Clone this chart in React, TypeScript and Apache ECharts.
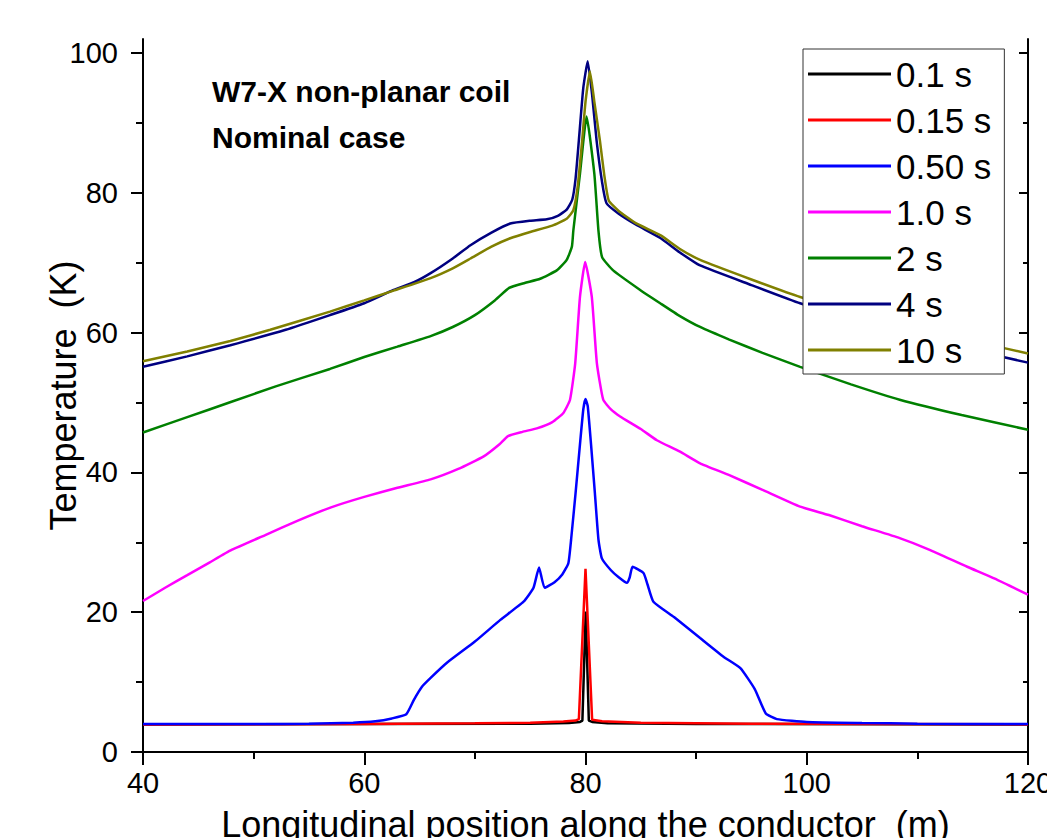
import React, { useEffect, useRef } from "react";
import * as echarts from "echarts";

const FONT = "'Liberation Sans', Arial, Helvetica, sans-serif";

const seriesNames = ["0.1 s", "0.15 s", "0.50 s", "1.0 s", "2 s", "4 s", "10 s"];
const seriesColors = ["#000000", "#ff0000", "#0000ff", "#ff00ff", "#008000", "#000080", "#808000"];
const seriesSmooth = [false, false, 0.15, 0.15, 0.15, 0.15, 0.15];

const xTickValues = [40, 60, 80, 100, 120];
const yMajorTicks = [0, 20, 40, 60, 80, 100];
const yMinorTicks = [10, 30, 50, 70, 90];

// [position (m), temperature (K)]
const t01 = [
  [40, 3.95], [60, 4.0], [75, 4.05], [78.5, 4.15], [79.5, 4.3], [79.72, 4.5], [80.02, 20.1],
  [80.3, 4.5], [80.6, 4.3], [82, 4.1], [90, 4.0], [120, 3.95],
];
const t015 = [
  [40, 3.95], [60, 4.0], [70, 4.1], [75, 4.2], [78, 4.35], [79.1, 4.5], [79.4, 4.7], [80.0, 26.2],
  [80.6, 4.6], [81.5, 4.4], [85, 4.2], [95, 4.05], [120, 3.95],
];
const t050 = [
  [40, 4.0], [50, 4.0], [55, 4.05], [59, 4.2], [61, 4.4], [62.5, 4.8], [63.8, 5.4], [64.5, 7.5],
  [65.2, 9.3], [66, 10.6], [67.5, 12.8], [70, 15.8], [72.3, 18.9], [74.4, 21.5], [75.3, 23.5],
  [75.8, 26.4], [76.3, 23.5], [77.2, 24.3], [77.9, 25.4], [78.45, 27.0], [78.7, 30.4], [79.1, 37],
  [79.5, 44], [79.8, 49], [80.0, 50.5], [80.2, 49.5], [80.5, 44], [80.85, 37], [81.17, 30.4],
  [81.48, 27.7], [82.3, 26.0], [83.0, 25.0], [83.74, 24.2], [84.0, 25.0], [84.25, 26.5],
  [85.24, 25.6], [85.6, 24.0], [86.14, 21.5], [88, 19.3], [90.36, 16.3], [92.5, 13.6], [94, 12.0],
  [95.3, 9.0], [96.3, 5.5], [97.3, 4.7], [100, 4.3], [105, 4.15], [110, 4.05], [120, 4.0],
];
const t10 = [
  [40, 21.6], [42, 23.5], [44, 25.3], [46, 27.1], [48, 28.9], [51, 31.0], [54, 33.1], [57, 35.0],
  [60, 36.5], [63, 37.8], [66, 39.0], [68.5, 40.5], [70.8, 42.3], [72.2, 44.0], [73.0, 45.2],
  [74.3, 45.8], [75.6, 46.3], [77, 47.2], [78.0, 48.5], [78.6, 50.4], [79.07, 55.6], [79.5, 65.1],
  [79.97, 70.1], [80.57, 65.1], [81.03, 55.6], [81.6, 50.4], [82.3, 49.0], [83.13, 48.0],
  [85, 46.2], [86.45, 44.6], [88.5, 43.0], [90.36, 41.3], [93, 39.6], [96, 37.5], [99.4, 35.1],
  [102, 33.9], [105, 32.3], [108.4, 30.6], [111, 29.0], [114.5, 26.5], [117, 24.8], [120, 22.5],
];
const t2 = [
  [40, 45.7], [44, 47.9], [48, 50.1], [52, 52.3], [56.9, 54.8], [60, 56.5], [63, 58.0], [66, 59.5],
  [68, 60.8], [70, 62.5], [71.8, 64.6], [73.1, 66.4], [74.5, 67.1], [75.9, 67.7], [77.4, 68.9],
  [78.3, 70.4], [78.77, 72.3], [78.9, 74.6], [79.5, 82.7], [80.1, 90.9], [80.8, 82.7],
  [81.17, 74.6], [81.5, 70.8], [82.5, 68.9], [84.94, 66.1], [86.75, 64.2], [88.5, 62.4],
  [90.36, 60.8], [93, 59.0], [96, 57.1], [99.4, 55.1], [104, 52.6], [108.4, 50.4], [114, 48.2],
  [120, 46.1],
];
const t4 = [
  [40, 55.1], [44, 56.6], [47.9, 58.2], [52.9, 60.4], [56.9, 62.5], [60, 64.2], [62.65, 66.1],
  [64.5, 67.2], [66, 68.5], [68, 70.6], [69.6, 72.5], [71.5, 74.3], [73.2, 75.6], [75, 76.0],
  [76.5, 76.2], [77.5, 76.7], [78.3, 77.6], [78.8, 79.0], [79.1, 82], [79.4, 87.5], [79.8, 95],
  [80.2, 98.8], [80.6, 94], [81.0, 87.5], [81.5, 81.5], [81.9, 78.5], [83, 77], [84.5, 75.5],
  [86.8, 73.5], [88.5, 71.5], [90.36, 69.6], [95, 66.8], [99.4, 64.2], [105, 61.4], [110, 59.3],
  [115, 57.5], [120, 55.7],
];
const t100 = [
  [40, 55.9], [44, 57.3], [47.9, 58.8], [51.5, 60.4], [56.9, 63.0], [60, 64.6], [62.65, 66.0],
  [66, 67.8], [68, 69.2], [69.6, 70.6], [71.5, 72.3], [73.2, 73.5], [75, 74.4], [77, 75.3],
  [78.3, 76.3], [78.9, 77.5], [79.3, 81], [79.7, 87.5], [80.0, 93], [80.4, 97.4], [80.8, 93],
  [81.3, 87.5], [81.7, 82.5], [82.1, 78.9], [83, 77.4], [84.5, 75.7], [86.8, 73.9], [88.5, 72.0],
  [90.36, 70.4], [95, 67.6], [99.4, 65.1], [105, 62.6], [110, 60.6], [115, 58.8], [120, 57.0],
];

const seriesData = [t01, t015, t050, t10, t2, t4, t100];

const axisLineStyle = { color: "#000", width: 2 };
const tickLineStyle = { color: "#000", width: 2 };

export default function App() {
  const ref = useRef<HTMLDivElement>(null);
  useEffect(() => {
    if (!ref.current) return;
    const chart = echarts.init(ref.current, undefined, { renderer: "svg" });
    const option: any = {
      animation: false,
      backgroundColor: "#fff",
      grid: {
        left: 143,
        right: 19,
        top: 39,
        bottom: 86,
        containLabel: false,
        outerBoundsMode: "none",
      },
      title: {
        text: "W7-X non-planar coil\nNominal case",
        left: 207,
        top: 63,
        textStyle: { fontSize: 30, fontWeight: "bold", lineHeight: 46, color: "#000", fontFamily: FONT },
      },
      legend: {
        orient: "vertical",
        left: 803,
        top: 49,
        data: seriesNames,
        selectedMode: false,
        icon: "rect",
        itemWidth: 83,
        itemHeight: 3,
        itemGap: 8,
        itemTextGap: 14,
        padding: [6, 13, 5, 5],
        backgroundColor: "#fff",
        borderColor: "#333",
        borderWidth: 1,
        borderRadius: 0,
        textStyle: { fontSize: 35, lineHeight: 38, color: "#000", fontFamily: FONT },
      },
      xAxis: [
        {
          type: "value",
          position: "bottom",
          min: xTickValues[0],
          max: xTickValues[xTickValues.length - 1],
          interval: 20,
          axisLine: { lineStyle: axisLineStyle },
          axisTick: { length: 12, lineStyle: tickLineStyle },
          minorTick: { show: true, splitNumber: 2, length: 7, lineStyle: tickLineStyle },
          axisLabel: { fontSize: 29, color: "#000", margin: 16, fontFamily: FONT },
          splitLine: { show: false },
          name: "Longitudinal position along the conductor  (m)",
          nameLocation: "middle",
          nameGap: 54,
          nameMoveOverlap: false,
          nameTextStyle: { fontSize: 36, color: "#000", fontFamily: FONT },
        },
        {
          type: "value",
          position: "top",
          min: xTickValues[0],
          max: xTickValues[xTickValues.length - 1],
          interval: 20,
          axisLine: { lineStyle: axisLineStyle },
          axisTick: { inside: true, length: 13, lineStyle: tickLineStyle },
          minorTick: { show: true, splitNumber: 2, length: 6, lineStyle: tickLineStyle },
          axisLabel: { show: false },
          splitLine: { show: false },
        },
      ],
      yAxis: [
        {
          type: "value",
          position: "left",
          min: 0,
          max: 102,
          axisLine: { lineStyle: axisLineStyle },
          axisTick: { length: 12, lineStyle: tickLineStyle, customValues: yMajorTicks },
          axisLabel: { fontSize: 29, color: "#000", margin: 25, fontFamily: FONT, customValues: yMajorTicks },
          splitLine: { show: false },
          name: "Temperature  (K)",
          nameLocation: "middle",
          nameGap: 62,
          nameMoveOverlap: false,
          nameTextStyle: { fontSize: 36, color: "#000", fontFamily: FONT },
        },
        {
          type: "value",
          position: "left",
          min: 0,
          max: 102,
          axisLine: { show: false },
          axisTick: { length: 7, lineStyle: tickLineStyle, customValues: yMinorTicks },
          axisLabel: { show: false },
          splitLine: { show: false },
        },
        {
          type: "value",
          position: "right",
          min: 0,
          max: 102,
          axisLine: { lineStyle: axisLineStyle },
          axisTick: { inside: true, length: 9, lineStyle: tickLineStyle, customValues: yMajorTicks },
          axisLabel: { show: false },
          splitLine: { show: false },
        },
        {
          type: "value",
          position: "right",
          min: 0,
          max: 102,
          axisLine: { show: false },
          axisTick: { inside: true, length: 5, lineStyle: tickLineStyle, customValues: yMinorTicks },
          axisLabel: { show: false },
          splitLine: { show: false },
        },
      ],
      series: seriesNames.map((name, i) => ({
        name,
        type: "line",
        xAxisIndex: 0,
        yAxisIndex: 0,
        data: seriesData[i],
        showSymbol: false,
        symbol: "none",
        smooth: seriesSmooth[i],
        color: seriesColors[i],
        lineStyle: { color: seriesColors[i], width: 2.5 },
        z: 2 + i * 0.01,
      })),
    };
    chart.setOption(option);
    return () => chart.dispose();
  }, []);
  return (
    <div
      ref={ref}
      style={{ position: "absolute", left: 0, top: 0, width: 1047, height: 838 }}
    />
  );
}
